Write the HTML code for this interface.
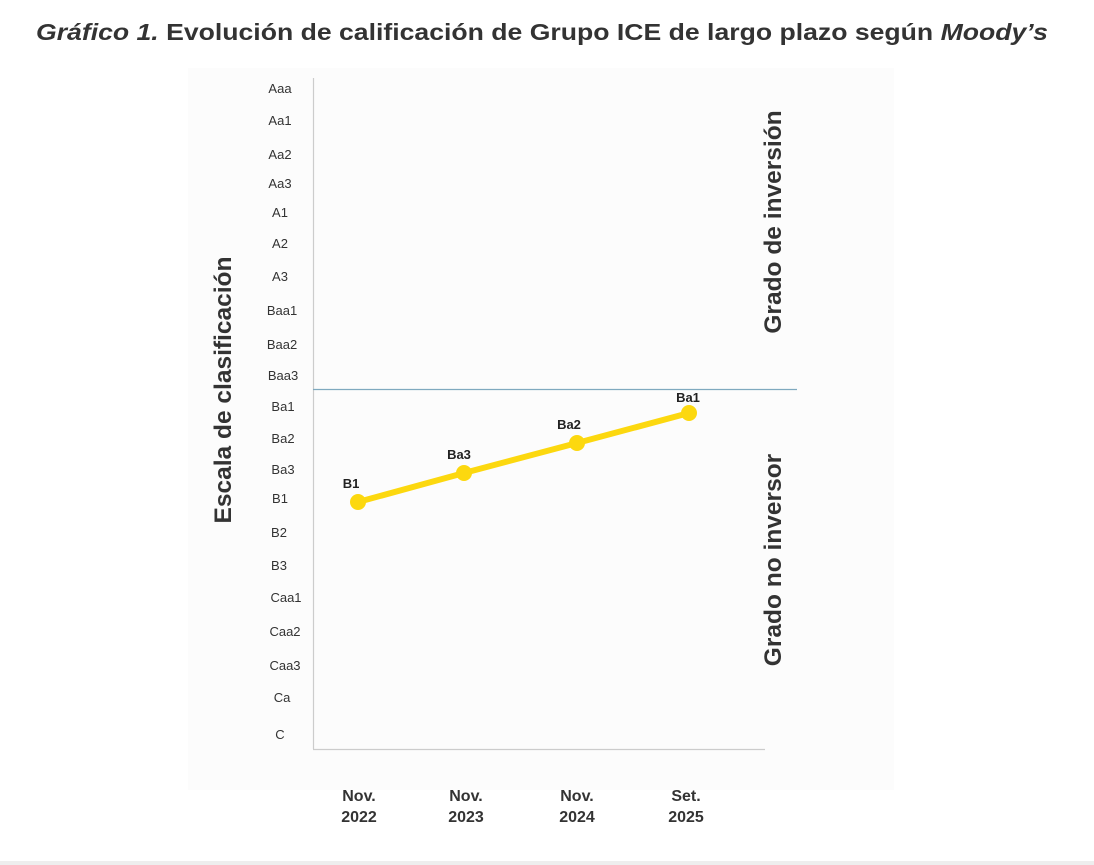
<!DOCTYPE html>
<html><head><meta charset="utf-8"><style>
body{margin:0;background:#fff;}
svg{display:block;font-family:"Liberation Sans",Arial,sans-serif;}
</style></head><body>
<svg width="1094" height="865" viewBox="0 0 1094 865">
<rect width="1094" height="865" fill="#fff"/>
<rect x="188" y="68" width="706" height="722" fill="#fcfcfc"/>
<text x="36" y="40" font-size="23" font-weight="bold" fill="#333" textLength="1012" lengthAdjust="spacingAndGlyphs"><tspan font-style="italic">Gráfico 1.</tspan> Evolución de calificación de Grupo ICE de largo plazo según <tspan font-style="italic">Moody’s</tspan></text>
<g font-size="13" fill="#333" text-anchor="middle">
<text x="280" y="93">Aaa</text><text x="280" y="125">Aa1</text><text x="280" y="159">Aa2</text><text x="280" y="188">Aa3</text><text x="280" y="217">A1</text><text x="280" y="248">A2</text><text x="280" y="281">A3</text><text x="282" y="315">Baa1</text><text x="282" y="349">Baa2</text><text x="283" y="380">Baa3</text><text x="283" y="411">Ba1</text><text x="283" y="443">Ba2</text><text x="283" y="474">Ba3</text><text x="280" y="503">B1</text><text x="279" y="537">B2</text><text x="279" y="570">B3</text><text x="286" y="602">Caa1</text><text x="285" y="636">Caa2</text><text x="285" y="670">Caa3</text><text x="282" y="702">Ca</text><text x="280" y="739">C</text>
</g>
<line x1="313.5" y1="78" x2="313.5" y2="749" stroke="#ccc" stroke-width="1.2"/>
<line x1="313" y1="749.5" x2="765" y2="749.5" stroke="#ccc" stroke-width="1.2"/>
<line x1="313" y1="389.5" x2="797" y2="389.5" stroke="#7fa9bf" stroke-width="1.2"/>
<polyline points="358,502 464,473 577,443 689,413" fill="none" stroke="#fcd80f" stroke-width="6"/>
<g fill="#fcd80f"><circle cx="358" cy="502" r="8"/><circle cx="464" cy="473" r="8"/><circle cx="577" cy="443" r="8"/><circle cx="689" cy="413" r="8"/></g>
<g font-size="13" font-weight="bold" fill="#222" text-anchor="middle">
<text x="351" y="488">B1</text><text x="459" y="459">Ba3</text><text x="569" y="429">Ba2</text><text x="688" y="402">Ba1</text>
</g>
<g font-size="16" font-weight="bold" fill="#333" text-anchor="middle">
<text x="359" y="801">Nov.</text><text x="359" y="822">2022</text>
<text x="466" y="801">Nov.</text><text x="466" y="822">2023</text>
<text x="577" y="801">Nov.</text><text x="577" y="822">2024</text>
<text x="686" y="801">Set.</text><text x="686" y="822">2025</text>
</g>
<g font-size="24.5" font-weight="bold" fill="#333" text-anchor="middle">
<text transform="translate(231,390) rotate(-90)">Escala de clasificación</text>
<text transform="translate(781,222) rotate(-90)">Grado de inversión</text>
<text transform="translate(781,560) rotate(-90)">Grado no inversor</text>
</g>
<rect x="0" y="861" width="1094" height="4" fill="#eee"/>
</svg>
</body></html>
